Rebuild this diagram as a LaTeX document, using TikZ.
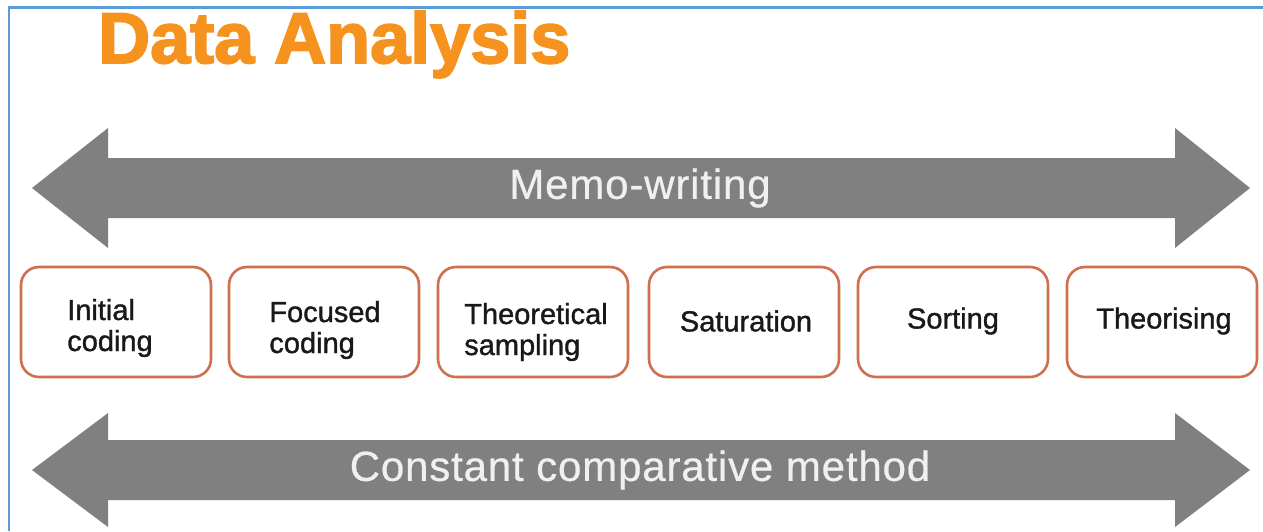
\documentclass[tikz,border=0pt]{standalone}
\usepackage{fontspec}
\setmainfont{Liberation Sans}
\newfontfamily\titlefont{Liberation Sans Bold}[FakeBold=2.5]
\newfontfamily\stagefont{Liberation Sans}[FakeBold=1.2]
\newfontfamily\arrowfont{Liberation Sans}[FakeBold=0.6, LetterSpace=2]
\definecolor{frameblue}{RGB}{91,155,213}
\definecolor{titleorange}{RGB}{246,146,30}
\definecolor{arrowgray}{RGB}{128,128,128}
\definecolor{boxedge}{RGB}{206,112,78}
\definecolor{arrowtext}{RGB}{240,240,240}
\begin{document}
\begin{tikzpicture}[
  x=1pt, y=-1pt,
  bigarrow/.style={fill=arrowgray, draw=none},
  arrowlabel/.style={text=arrowtext, font=\arrowfont\fontsize{42}{42}\selectfont},
  stage/.style={rectangle, draw=boxedge, line width=2.6pt, rounded corners=18pt,
    fill=white, minimum width=190pt, minimum height=110pt},
  stagetext/.style={align=left, text=black!90, font=\stagefont\fontsize{29}{31}\selectfont}
]
  \useasboundingbox (0,0) rectangle (1263,531);
  % frame
  \draw[frameblue, line width=2.4pt] (9,531) -- (9,7.5) -- (1263,7.5);
  % title
  \node[anchor=base west, inner sep=0pt, text=titleorange,
    font=\titlefont\fontsize{72}{72}\selectfont] (title) at (98,63) {Data Analysis};
  % top arrow
  \draw[bigarrow] (32,188) -- (108,128) -- (108,158) -- (1175,158) -- (1175,128)
    -- (1250,188) -- (1175,248) -- (1175,218) -- (108,218) -- (108,248) -- cycle;
  \node[arrowlabel] (memo) at (640,188) {Memo-writing};
  % stages
  \node[stage] (s1) at (116,322) {};
  \node[stage] (s2) at (324,322) {};
  \node[stage] (s3) at (533,322) {};
  \node[stage] (s4) at (744,322) {};
  \node[stage] (s5) at (953,322) {};
  \node[stage] (s6) at (1162,322) {};
  \node[stagetext] (t1) at (110,328) {Initial\\coding};
  \node[stagetext] (t2) at (325,330) {Focused\\coding};
  \node[stagetext] (t3) at (536,332) {Theoretical\\sampling};
  \node[stagetext] (t4) at (746,321) {Saturation};
  \node[stagetext] (t5) at (953,321) {Sorting};
  \node[stagetext] (t6) at (1164,321) {Theorising};
  % bottom arrow
  \draw[bigarrow] (32,470) -- (108,413) -- (108,440) -- (1175,440) -- (1175,413)
    -- (1250,470) -- (1175,527) -- (1175,500) -- (108,500) -- (108,527) -- cycle;
  \node[arrowlabel] (ccm) at (640,470) {Constant comparative method};
\end{tikzpicture}
\end{document}
